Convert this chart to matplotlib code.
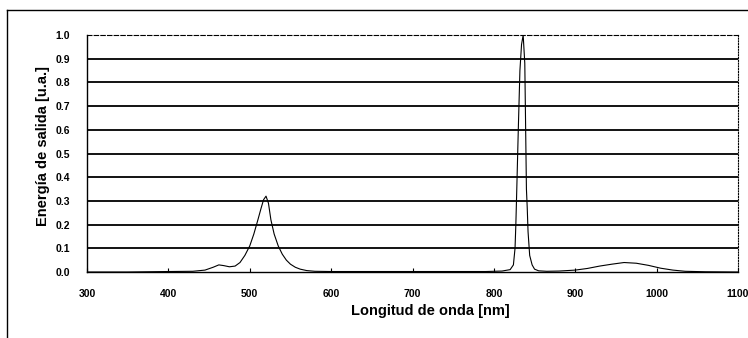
import matplotlib
matplotlib.use("Agg")
import matplotlib.pyplot as plt
from matplotlib.lines import Line2D

plt.rcParams['font.family'] = ['Liberation Sans', 'DejaVu Sans']

# Data
wavelength_nm = [300, 350, 400, 430, 445, 455, 462, 468, 475, 482, 488, 494,
                 500, 505, 510, 514, 517, 520, 523, 526, 530, 535, 540, 545,
                 550, 556, 562, 570, 580, 600, 650, 700, 750, 790, 810, 820,
                 824, 826, 827, 828, 830, 832, 834, 836, 838, 840, 841, 842,
                 844, 847, 850, 855, 865, 880, 900, 915, 930, 945, 960, 975,
                 990, 1005, 1020, 1035, 1060, 1100]
energy_au = [0.0, 0.0, 0.002, 0.003, 0.008, 0.02, 0.03, 0.027, 0.022, 0.025,
             0.04, 0.07, 0.11, 0.16, 0.22, 0.27, 0.305, 0.32, 0.29, 0.22,
             0.16, 0.11, 0.075, 0.05, 0.033, 0.02, 0.012, 0.006, 0.003, 0.002,
             0.002, 0.002, 0.002, 0.002, 0.004, 0.01, 0.03, 0.1, 0.2, 0.33,
             0.6, 0.85, 0.96, 1.0, 0.88, 0.35, 0.27, 0.17, 0.07, 0.03, 0.012,
             0.005, 0.003, 0.004, 0.008, 0.015, 0.025, 0.033, 0.04, 0.037,
             0.028, 0.016, 0.008, 0.003, 0.001, 0.0]

x_ticks = [300, 400, 500, 600, 700, 800, 900, 1000, 1100]
y_ticks = [0.0, 0.1, 0.2, 0.3, 0.4, 0.5, 0.6, 0.7, 0.8, 0.9, 1.0]

fig = plt.figure(figsize=(7.48, 3.38), dpi=100)
ax = fig.add_axes([87/748, 66/338, 651/748, 237/338])

# outer frame lines (top and left)
fig.add_artist(Line2D([7/748, 1.0], [1 - 10/338, 1 - 10/338], color='black', lw=1.0,
                      transform=fig.transFigure))
fig.add_artist(Line2D([7/748, 7/748], [0.0, 1 - 10/338], color='black', lw=1.0,
                      transform=fig.transFigure))

for yv in y_ticks[1:-1]:
    ax.axhline(yv, color='black', lw=1.3, zorder=1)

ax.plot(wavelength_nm, energy_au, color='black', lw=0.8, zorder=3)

ax.set_xlim(300, 1100)
ax.set_ylim(0.0, 1.0)
ax.set_xticks(x_ticks)
ax.set_xticklabels([str(v) for v in x_ticks])
ax.set_yticks(y_ticks)
ax.set_yticklabels([f"{v:.1f}" for v in y_ticks])
ax.tick_params(axis='y', length=0, labelsize=7.5, pad=12)
ax.tick_params(axis='x', direction='in', length=3, width=0.8, labelsize=7.5, pad=12)
for lbl in ax.get_xticklabels() + ax.get_yticklabels():
    lbl.set_fontweight('bold')

for side in ['left', 'bottom']:
    ax.spines[side].set_linewidth(1.0)
ax.spines['top'].set_linestyle((0, (4, 2)))
ax.spines['top'].set_linewidth(0.8)
ax.spines['right'].set_linestyle((0, (1, 1.5)))
ax.spines['right'].set_linewidth(0.8)

ax.set_xlabel('Longitud de onda [nm]', fontsize=10.5, fontweight='bold')
ax.set_ylabel('Energía de salida [u.a.]', fontsize=10.5, fontweight='bold')
ax.xaxis.set_label_coords(0.528, -0.135)
ax.yaxis.set_label_coords(-0.057, 0.532)

fig.savefig('out.png', dpi=100)
